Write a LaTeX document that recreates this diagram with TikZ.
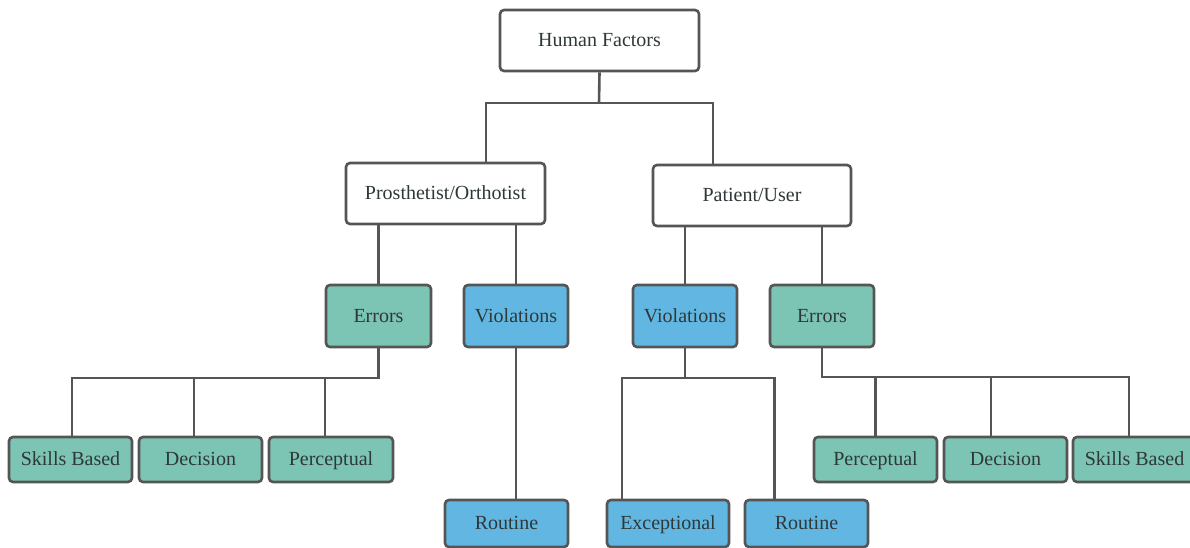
\documentclass[tikz,border=0pt]{standalone}
\usepackage{fontspec}
\setmainfont{Liberation Serif}
\definecolor{boxgreen}{HTML}{7CC4B3}
\definecolor{boxblue}{HTML}{62B7E2}
\definecolor{linegray}{HTML}{555555}
\definecolor{txtgray}{HTML}{2F3838}
\tikzset{
  box/.style={draw=linegray, line width=2.6pt, rounded corners=4pt, inner sep=0pt,
    text=txtgray, font=\fontsize{20}{24}\selectfont, text height=15pt, text depth=3pt},
  whitebox/.style={box, fill=white, minimum height=61pt},
  greenbox/.style={box, fill=boxgreen},
  bluebox/.style={box, fill=boxblue},
  conn/.style={draw=linegray, line width=2.6pt}
}
\begin{document}
\begin{tikzpicture}[x=1pt,y=-1pt]
\useasboundingbox (0,0) rectangle (1190,548);
\clip (0,0) rectangle (1190,548);
% top levels
\node[whitebox, minimum width=199pt] (HF) at (599.5,40.5) {Human Factors};
\node[whitebox, minimum width=199pt] (Pro) at (445.5,193.5) {Prosthetist/Orthotist};
\node[whitebox, minimum width=198pt] (Pat) at (752,195.5) {Patient/User};
% second level
\node[greenbox, minimum width=105pt, minimum height=62pt] (ErrL) at (378.5,316) {Errors};
\node[bluebox, minimum width=104pt, minimum height=62pt] (VioL) at (516,316) {Violations};
\node[bluebox, minimum width=104pt, minimum height=62pt] (VioR) at (685,316) {Violations};
\node[greenbox, minimum width=104pt, minimum height=62pt] (ErrR) at (822,316) {Errors};
% third level left
\node[greenbox, minimum width=123pt, minimum height=45pt] (SkL) at (70.5,459.5) {Skills Based};
\node[greenbox, minimum width=123pt, minimum height=45pt] (DeL) at (200.5,459.5) {Decision};
\node[greenbox, minimum width=124pt, minimum height=45pt] (PeL) at (331,459.5) {Perceptual};
% third level right
\node[greenbox, minimum width=123pt, minimum height=45pt] (PeR) at (875.5,459.5) {Perceptual};
\node[greenbox, minimum width=123pt, minimum height=45pt] (DeR) at (1005.5,459.5) {Decision};
\node[greenbox, minimum width=123pt, minimum height=45pt] (SkR) at (1134.5,459.5) {Skills Based};
% routines
\node[bluebox, minimum width=123pt, minimum height=47pt] (RoL) at (506.5,523.5) {Routine};
\node[bluebox, minimum width=122pt, minimum height=47pt] (Exc) at (668,523.5) {Exceptional};
\node[bluebox, minimum width=123pt, minimum height=47pt] (RoR) at (806.5,523.5) {Routine};
% junction coordinates
\coordinate (jTop) at (599,103);
\coordinate (busL) at (378.5,378);
\coordinate (busV) at (685,378);
\coordinate (busR) at (822,377);
% connectors
\draw[conn] (HF.south) -- (jTop);
\draw[conn] ([xshift=40.5pt]Pro.north) |- (jTop) -| ([xshift=-39pt]Pat.north);
\draw[conn] (ErrL.north |- Pro.south) -- (ErrL.north);
\draw[conn] (VioL.north |- Pro.south) -- (VioL.north);
\draw[conn] (VioR.north |- Pat.south) -- (VioR.north);
\draw[conn] (ErrR.north |- Pat.south) -- (ErrR.north);
\draw[conn] (ErrL.south) -- (busL) -| ([xshift=1.5pt]SkL.north);
\draw[conn] ([xshift=-6.5pt]DeL.north) -- ([xshift=-6.5pt]DeL.north |- busL);
\draw[conn] ([xshift=-6pt]PeL.north) -- ([xshift=-6pt]PeL.north |- busL);
\draw[conn] (VioL.south) -- (VioL.south |- RoL.north);
\draw[conn] (VioR.south) -- (busV);
\draw[conn] ([xshift=-46pt]Exc.north) |- (busV) -| ([xshift=-32pt]RoR.north);
\draw[conn] (ErrR.south) -- (busR) -| ([xshift=-5.5pt]SkR.north);
\draw[conn] (PeR.north) -- (PeR.north |- busR);
\draw[conn] ([xshift=-14.5pt]DeR.north) -- ([xshift=-14.5pt]DeR.north |- busR);
\end{tikzpicture}
\end{document}
